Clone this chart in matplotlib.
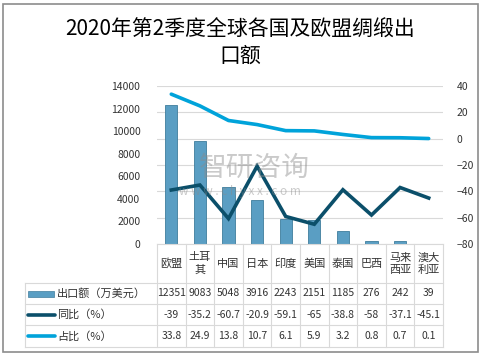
import matplotlib.pyplot as plt
import matplotlib.transforms as mtransforms
from matplotlib.patches import Rectangle
from matplotlib.lines import Line2D

plt.rcParams['font.family'] = ['Noto Sans CJK SC', 'DejaVu Sans']

categories = ['欧盟', '土耳\n其', '中国', '日本', '印度', '美国', '泰国', '巴西', '马来\n西亚', '澳大\n利亚']
export_value = [12351, 9083, 5048, 3916, 2243, 2151, 1185, 276, 242, 39]
yoy = [-39, -35.2, -60.7, -20.9, -59.1, -65, -38.8, -58, -37.1, -45.1]
share = [33.8, 24.9, 13.8, 10.7, 6.1, 5.9, 3.2, 0.8, 0.7, 0.1]
value_labels = ['12351', '9083', '5048', '3916', '2243', '2151', '1185', '276', '242', '39']
yoy_labels = ['-39', '-35.2', '-60.7', '-20.9', '-59.1', '-65', '-38.8', '-58', '-37.1', '-45.1']
share_labels = ['33.8', '24.9', '13.8', '10.7', '6.1', '5.9', '3.2', '0.8', '0.7', '0.1']
row_names = ['出口额（万美元）', '同比（%）', '占比（%）']

W, H = 482, 357
bar_color = '#5a9ec3'
bar_edge = '#3f7d9d'
yoy_color = '#0b4f6a'
share_color = '#00a3da'
grid_color = '#d9d9d9'


def fx(x):
    return x / W


def fy(y):
    return 1 - y / H


fig = plt.figure(figsize=(W / 100, H / 100), dpi=100)
fig.patches.append(Rectangle((fx(3), fy(352)), fx(475), 348 / H, transform=fig.transFigure,
                             fill=False, edgecolor='#8c8c8c', lw=1.2))

fig.text(fx(240), fy(30), '2020年第2季度全球各国及欧盟绸缎出', ha='center', va='center', fontsize=15)
fig.text(fx(240), fy(56), '口额', ha='center', va='center', fontsize=15)

ax = fig.add_axes([fx(157), fy(244), 286 / W, 158 / H])
x = list(range(len(categories)))
ax.bar(x, export_value, width=0.42, color=bar_color, edgecolor=bar_edge, lw=0.6, zorder=2)
ax.set_xlim(-0.5, len(categories) - 0.5)
ax.set_ylim(0, 14000)
ax.set_yticks(range(0, 14001, 2000))
ax.tick_params(axis='y', length=0, labelsize=7.5, pad=12, colors='#333333')
ax.set_xticks([])
for s in ['top', 'left', 'right']:
    ax.spines[s].set_visible(False)
ax.spines['bottom'].set_color(grid_color)

ax2 = ax.twinx()
ax2.set_ylim(-80, 40)
ax2.set_yticks(range(-80, 41, 20))
ax2.yaxis.grid(True, color=grid_color, lw=0.8)
ax2.set_axisbelow(True)
ax2.tick_params(axis='y', length=0, labelsize=7.5, pad=10, colors='#333333')
for s in ax2.spines.values():
    s.set_visible(False)
ax.set_zorder(ax2.get_zorder() + 1)
ax.patch.set_visible(False)
ax2.patch.set_visible(False)
ax.plot(x, share, color=share_color, lw=2.6, zorder=3, solid_capstyle='round',
        transform=ax2.transData)
ax.plot(x, yoy, color=yoy_color, lw=2.6, zorder=3, solid_joinstyle='miter',
        transform=ax2.transData)

# watermark
ax.text(0.34, 0.48, '智研咨询', transform=ax.transAxes, ha='center', va='center',
        fontsize=20, color='#8a8a8a', alpha=0.45, zorder=4)
ax.text(0.29, 0.33, 'w w w . c h y x x . c o m', transform=ax.transAxes, ha='center', va='center',
        fontsize=8.5, color='#8a8a8a', alpha=0.45, zorder=4)

# data table below the plot
bt = mtransforms.blended_transform_factory(ax.transData, fig.transFigure)
rows_y = [244, 283, 304, 325, 347]
tbl_left, tbl_right = 25, 443
for i in range(len(categories) + 1):
    xe = i - 0.5
    fig.add_artist(Line2D([xe, xe], [fy(244), fy(347)], transform=bt, color=grid_color, lw=0.8))
for y in rows_y[1:]:
    fig.add_artist(Line2D([fx(tbl_left), fx(tbl_right)], [fy(y), fy(y)], transform=fig.transFigure,
                          color=grid_color, lw=0.8))
fig.add_artist(Line2D([fx(tbl_left), fx(tbl_left)], [fy(283), fy(347)], transform=fig.transFigure,
                      color=grid_color, lw=0.8))

for i, c in enumerate(categories):
    fig.text(i, fy(263.5), c, transform=bt, ha='center', va='center', fontsize=8,
             color='#333333', linespacing=1.25)
for r, labels in enumerate([value_labels, yoy_labels, share_labels]):
    yc = (rows_y[r + 1] + rows_y[r + 2]) / 2
    for i, t in enumerate(labels):
        fig.text(i, fy(yc), t, transform=bt, ha='center', va='center', fontsize=7.5, color='#333333')
    fig.text(fx(57), fy(yc), row_names[r], ha='left', va='center', fontsize=8, color='#333333')

fig.patches.append(Rectangle((fx(28), fy(296.5)), fx(26), 6 / H, transform=fig.transFigure,
                             facecolor=bar_color, edgecolor=bar_edge, lw=0.5))
fig.add_artist(Line2D([fx(28), fx(55)], [fy(314.5), fy(314.5)], transform=fig.transFigure,
                      color=yoy_color, lw=2.6, solid_capstyle='round'))
fig.add_artist(Line2D([fx(28), fx(55)], [fy(336), fy(336)], transform=fig.transFigure,
                      color=share_color, lw=2.6, solid_capstyle='round'))

fig.savefig('out.png', dpi=100)
